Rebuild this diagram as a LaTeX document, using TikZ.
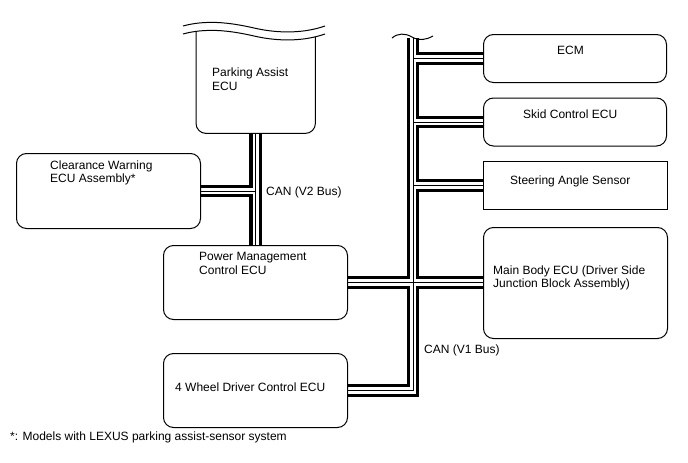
\documentclass[tikz,border=0pt]{standalone}
\usepackage{fontspec}
\setmainfont{Liberation Sans}
\usetikzlibrary{backgrounds}
\begin{document}
\begin{tikzpicture}[x=1pt,y=-1pt,
  box/.style={draw,line width=1pt,rounded corners=10pt,fill=white,inner sep=0pt,anchor=north west},
  sbox/.style={draw,line width=1pt,fill=white,inner sep=0pt,anchor=north west},
  lbl/.style={anchor=base west,inner sep=0pt,font=\fontsize{12}{14}\selectfont},
  buso/.style={line width=12.5pt,black},
  busw/.style={line width=6.4pt,white},
  busi/.style={line width=1pt,black}]
\useasboundingbox (0,0) rectangle (688,463);

% boxes
\node[box,minimum width=184pt,minimum height=75pt] (cw) at (16,153) {};
\node[box,minimum width=184pt,minimum height=74pt] (pm) at (163,245) {};
\node[box,minimum width=184pt,minimum height=74pt] (fw) at (163,353) {};
\node[box,minimum width=183pt,minimum height=48pt] (ecm) at (483,34) {};
\node[box,minimum width=183pt,minimum height=48pt] (skid) at (483,97.5) {};
\node[sbox,minimum width=184pt,minimum height=48pt] (sas) at (483,161) {};
\node[box,minimum width=184pt,minimum height=111pt] (mb) at (483,227) {};

% parking assist ECU (cut-off top)
\node[inner sep=0pt,anchor=north west,minimum width=119pt,minimum height=113pt] (pa) at (196,20) {};
\draw[line width=1pt,rounded corners=10pt,fill=white] (pa.north west) -- (pa.south west) -- (pa.south east) -- (pa.north east);
\fill[white] (183,34) .. controls (205,28) and (228,30) .. (254,36) .. controls (280,42) and (305,41) .. (325,34) -- (325,10) -- (183,10) -- cycle;
\draw[line width=1pt] (183,34) .. controls (205,28) and (228,30) .. (254,36) .. controls (280,42) and (305,41) .. (325,34);
\draw[line width=1pt] (183,26) .. controls (205,20) and (228,22) .. (254,28) .. controls (280,34) and (305,33) .. (325,26);

% V1 bus top break
\coordinate (v1top) at (413,38);
\draw[line width=1pt] (392,38) .. controls (398,33) and (405,33) .. (412,37) .. controls (419,41) and (426,40) .. (433,36);

% buses
\begin{pgfonlayer}{background}
\foreach \s in {buso,busw,busi}{
  \draw[\s] (pa.south) -- (pa.south |- pm.north);
  \draw[\s] (cw.east) -- (cw.east -| pa.south);
  \draw[\s] (v1top) -- (v1top |- fw.east) -- (fw.east);
  \draw[\s] (ecm.west) -- (ecm.west -| v1top);
  \draw[\s] (skid.west) -- (skid.west -| v1top);
  \draw[\s] (sas.west) -- (sas.west -| v1top);
  \draw[\s] (pm.east) -- (pm.east -| mb.west);
}
\end{pgfonlayer}

% texts
\node[lbl] (tpa1) at (212,76.5) {Parking Assist};
\node[lbl] (tpa2) at (212,90.5) {ECU};
\node[lbl] (tcw1) at (50,169.5) {Clearance Warning};
\node[lbl] (tcw2) at (50,182.5) {ECU Assembly*};
\node[lbl] (tpm1) at (199,260) {Power Management};
\node[lbl] (tpm2) at (199,274) {Control ECU};
\node[lbl] (tfw) at (175,391) {4 Wheel Driver Control ECU};
\node[lbl] (tecm) at (557,54) {ECM};
\node[lbl] (tskid) at (523,118) {Skid Control ECU};
\node[lbl] (tsas) at (510,184) {Steering Angle Sensor};
\node[lbl] (tmb1) at (493,274) {Main Body ECU (Driver Side};
\node[lbl] (tmb2) at (493,287) {Junction Block Assembly)};
\node[lbl] (tv2) at (266,195) {CAN (V2 Bus)};
\node[lbl] (tv1) at (424,353) {CAN (V1 Bus)};
\node[lbl] (tnote) at (10,440) {*: Models with LEXUS parking assist-sensor system};
\end{tikzpicture}
\end{document}
